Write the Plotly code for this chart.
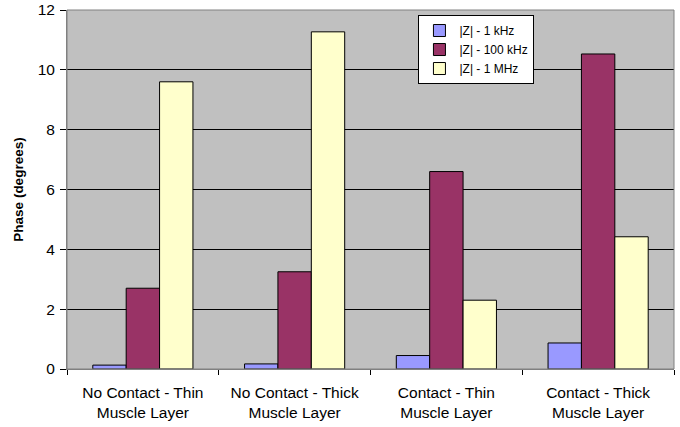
import plotly.graph_objects as go

categories = ["No Contact - Thin<br>Muscle Layer", "No Contact - Thick<br>Muscle Layer",
              "Contact - Thin<br>Muscle Layer", "Contact - Thick<br>Muscle Layer"]
series_names = ["|Z| - 1 kHz", "|Z| - 100 kHz", "|Z| - 1 MHz"]
z_1khz = [0.13, 0.17, 0.45, 0.87]
z_100khz = [2.7, 3.25, 6.6, 10.53]
z_1mhz = [9.6, 11.27, 2.3, 4.42]
colors = ["#9999FF", "#993366", "#FFFFCC"]

fig = go.Figure()
for name, vals, col in zip(series_names, [z_1khz, z_100khz, z_1mhz], colors):
    fig.add_trace(go.Bar(x=categories, y=vals, name=name,
                         marker=dict(color=col, line=dict(color="#000000", width=1))))

font = "Liberation Sans, Arial, sans-serif"
fig.update_layout(
    width=680, height=427,
    margin=dict(l=67, r=6, t=10, b=58),
    paper_bgcolor="#FFFFFF", plot_bgcolor="#C0C0C0",
    barmode="group", bargap=0.34, bargroupgap=0,
    font=dict(family=font, size=15, color="#000000"),
    showlegend=True,
    legend=dict(x=0.579, y=0.986, xanchor="left", yanchor="top",
                bgcolor="#FFFFFF", bordercolor="#000000", borderwidth=1,
                font=dict(size=12), tracegroupgap=0, itemwidth=30),
    xaxis=dict(showgrid=False, ticks="outside", tickson="boundaries", ticklen=5,
               tickcolor="#000000", showline=True, linecolor="#808080", linewidth=1,
               tickfont=dict(size=15.5), ticklabelstandoff=9, automargin=False),
    yaxis=dict(range=[0, 12], dtick=2, showgrid=True, gridcolor="#000000", gridwidth=1,
               ticks="outside", ticklen=6, tickcolor="#000000", showline=True,
               linecolor="#808080", linewidth=1, zeroline=False, automargin=False,
               tickfont=dict(size=15.5), ticklabelstandoff=2,
               title=dict(text="<b>Phase (degrees)</b>", font=dict(size=13.5), standoff=10)),
)
fig.add_shape(type="rect", xref="paper", yref="paper", x0=0, y0=0, x1=1, y1=1,
              line=dict(color="#808080", width=1), layer="above")
fig.write_html("out.html")
